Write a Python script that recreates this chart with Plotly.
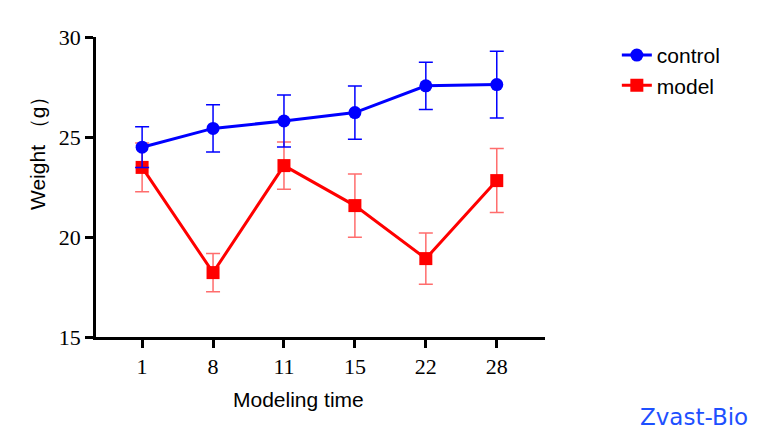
import plotly.graph_objects as go

days = ["1", "8", "11", "15", "22", "28"]
control_mean = [24.49, 25.43, 25.80, 26.22, 27.56, 27.62]
control_err = [1.02, 1.18, 1.30, 1.33, 1.18, 1.67]
model_mean = [23.48, 18.22, 23.57, 21.57, 18.92, 22.82]
model_err = [1.22, 0.96, 1.18, 1.58, 1.28, 1.60]
y_ticks = [15, 20, 25, 30]

fig = go.Figure()
fig.add_trace(go.Scatter(
    x=days, y=model_mean, name="model", mode="lines+markers",
    line=dict(color="#ff0000", width=3),
    marker=dict(symbol="square", size=13, color="#ff0000"),
    error_y=dict(type="data", array=model_err, visible=True,
                 color="rgba(255,60,60,0.75)", thickness=1.5, width=7),
))
fig.add_trace(go.Scatter(
    x=days, y=control_mean, name="control", mode="lines+markers",
    line=dict(color="#0000ff", width=3),
    marker=dict(symbol="circle", size=13, color="#0000ff"),
    error_y=dict(type="data", array=control_err, visible=True,
                 color="#0000ff", thickness=1.5, width=7),
))

title_font = dict(family="Liberation Sans, Arial", size=21, color="black")
tick_font = dict(family="Liberation Serif, Times New Roman", size=22, color="black")

fig.update_layout(
    width=761, height=432,
    margin=dict(l=96, r=216, t=37, b=95),
    plot_bgcolor="white", paper_bgcolor="white",
    showlegend=True,
    legend=dict(x=1.16, y=1.007, xanchor="left", yanchor="top",
                traceorder="reversed", font=title_font,
                bgcolor="rgba(0,0,0,0)"),
    xaxis=dict(
        type="category", range=[-0.65, 5.68],
        showline=True, linecolor="black", linewidth=2.5,
        ticks="outside", ticklen=8, tickwidth=2.5, tickcolor="black",
        showgrid=False, zeroline=False, tickfont=tick_font,
    ),
    yaxis=dict(
        range=[15, 30], tickvals=y_ticks,
        showline=True, linecolor="black", linewidth=2.5,
        ticks="outside", ticklen=8, tickwidth=2.5, tickcolor="black",
        showgrid=False, zeroline=False, tickfont=tick_font,
    ),
    annotations=[
        dict(text="Modeling time", xref="paper", yref="paper", x=0.45, y=-0.2067,
             xanchor="center", yanchor="middle", showarrow=False, font=title_font),
        dict(text="Weight （g）", xref="paper", yref="paper", x=-0.1314, y=0.63,
             xanchor="center", yanchor="middle", textangle=-90, showarrow=False,
             font=title_font),
        dict(text="Zvast-Bio", xref="paper", yref="paper", x=1.3318, y=-0.2667,
             xanchor="center", yanchor="middle", showarrow=False, borderpad=0,
             font=dict(family="DejaVu Sans", size=23, color="#1e50ff")),
    ],
)

fig.write_html("out.html")
